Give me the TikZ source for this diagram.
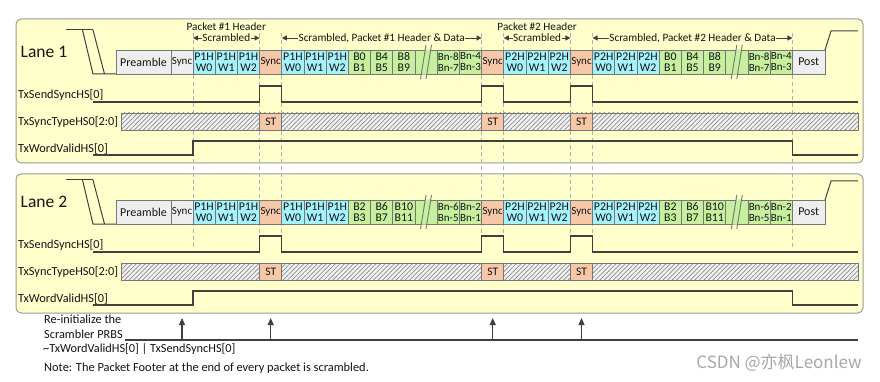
\documentclass[tikz,border=0pt]{standalone}
\usepackage{fontspec}
\setmainfont{Carlito}
\newfontfamily\cjkfont{Noto Sans CJK SC}
\usetikzlibrary{arrows.meta,patterns.meta}
\definecolor{lanebg}{HTML}{FFFFCC}
\definecolor{laneline}{HTML}{9A9A9A}
\definecolor{cellline}{HTML}{767676}
\definecolor{cellgray}{HTML}{EEEEEE}
\definecolor{cellcyan}{HTML}{A4F2FC}
\definecolor{cellgreen}{HTML}{C6EF9E}
\definecolor{cellorange}{HTML}{F6C8A8}
\definecolor{sigcol}{HTML}{404040}
\definecolor{dashcol}{HTML}{B0B0B0}
\definecolor{hatchbg}{HTML}{F2F2F2}
\definecolor{hatchline}{HTML}{8A8A8A}
\definecolor{txt}{HTML}{141414}
\definecolor{wmgray}{HTML}{A8A8A8}
\tikzset{
  lanebox/.style={draw=laneline, fill=lanebg, line width=1pt, rounded corners=5pt},
  cellbox/.style={draw=cellline, line width=0.7pt, minimum height=24pt, inner sep=0pt, outer sep=0pt,
    font=\fontsize{11.8}{11}\selectfont, align=center, text=txt},
  graycell/.style={cellbox, fill=cellgray},
  cyancell/.style={cellbox, fill=cellcyan},
  greencell/.style={cellbox, fill=cellgreen},
  orangecell/.style={cellbox, fill=cellorange},
  synctext/.style={font=\fontsize{11}{11}\selectfont},
  sig/.style={draw=sigcol, line width=1.1pt},
  lbl/.style={anchor=west, inner sep=0pt, text=txt, font=\fontsize{12.3}{13}\selectfont},
  hdrtext/.style={inner sep=0.5pt, text=txt, font=\fontsize{11.2}{12}\selectfont},
  hdrarrow/.style={-{Triangle[length=5pt,width=5pt]}, draw=sigcol, line width=0.8pt},
  dashln/.style={draw=dashcol, line width=0.8pt, dash pattern=on 4pt off 3pt},
  uparrow/.style={-{Triangle[length=7pt,width=6pt]}, draw=sigcol, line width=1.1pt},
}
% unit cell by index
\newcommand\ucell[5]{\node[#4, minimum width=22.2pt] (#1) at ({193+22.2*#2+11.1},#3) {#5};}
% break cell
\newcommand\brkcell[3]{%
  \ucell{#1}{#2}{#3}{greencell}{}
  \pgfmathsetmacro\bx{193+22.2*#2}
  \fill[cellgreen] ({\bx+10.3},{#3-12.6}) -- ({\bx+15.8},{#3-12.6}) -- ({\bx+11.7},{#3+12.6}) -- ({\bx+6.2},{#3+12.6}) -- cycle;
  \draw[draw=cellline, line width=0.9pt] ({\bx+11},{#3-17}) -- ({\bx+5.5},{#3+17});
  \draw[draw=cellline, line width=0.9pt] ({\bx+16.5},{#3-17}) -- ({\bx+11},{#3+17});
}
% lane cells: prefix, ycenter, B-a, B-b, B-c, Bn-a, Bn-b
\newcommand\lanecells[7]{%
  \node[graycell, minimum width=55pt, font=\fontsize{12}{12}\selectfont] (#1pre) at (143.5,#2) {Preamble};
  \node[graycell, minimum width=22pt, synctext] (#1sy) at (182,#2) {Sync};
  \ucell{#1c0}{0}{#2}{cyancell}{P1H\\W0}
  \ucell{#1c1}{1}{#2}{cyancell}{P1H\\W1}
  \ucell{#1c2}{2}{#2}{cyancell}{P1H\\W2}
  \ucell{#1c3}{3}{#2}{orangecell, synctext}{Sync}
  \ucell{#1c4}{4}{#2}{cyancell}{P1H\\W0}
  \ucell{#1c5}{5}{#2}{cyancell}{P1H\\W1}
  \ucell{#1c6}{6}{#2}{cyancell}{P1H\\W2}
  \ucell{#1c7}{7}{#2}{greencell}{#3}
  \ucell{#1c8}{8}{#2}{greencell}{#4}
  \ucell{#1c9}{9}{#2}{greencell}{#5}
  \brkcell{#1c10}{10}{#2}
  \ucell{#1c11}{11}{#2}{greencell, font=\fontsize{11}{11}\selectfont}{#6}
  \ucell{#1c12}{12}{#2}{greencell, font=\fontsize{11}{11}\selectfont}{#7}
  \ucell{#1c13}{13}{#2}{orangecell, synctext}{Sync}
  \ucell{#1c14}{14}{#2}{cyancell}{P2H\\W0}
  \ucell{#1c15}{15}{#2}{cyancell}{P2H\\W1}
  \ucell{#1c16}{16}{#2}{cyancell}{P2H\\W2}
  \ucell{#1c17}{17}{#2}{orangecell, synctext}{Sync}
  \ucell{#1c18}{18}{#2}{cyancell}{P2H\\W0}
  \ucell{#1c19}{19}{#2}{cyancell}{P2H\\W1}
  \ucell{#1c20}{20}{#2}{cyancell}{P2H\\W2}
  \ucell{#1c21}{21}{#2}{greencell}{#3}
  \ucell{#1c22}{22}{#2}{greencell}{#4}
  \ucell{#1c23}{23}{#2}{greencell}{#5}
  \brkcell{#1c24}{24}{#2}
  \ucell{#1c25}{25}{#2}{greencell, font=\fontsize{11}{11}\selectfont}{#6}
  \ucell{#1c26}{26}{#2}{greencell, font=\fontsize{11}{11}\selectfont}{#7}
  \node[graycell, minimum width=32.6pt, font=\fontsize{12}{12}\selectfont] (#1post) at (808.7,#2) {Post};
}
% signals of a lane: prefix, dy
\newcommand\lanesignals[2]{%
  % entry / exit
  \draw[sig, line width=1pt] (66,{30+#2}) -- (93,{30+#2});
  \draw[sig, line width=1pt] (82.5,{30+#2}) -- (93,{74+#2}) -- (116,{74+#2});
  \draw[sig, line width=1pt] (93,{30+#2}) -- (104.5,{74+#2});
  \draw[sig, line width=1pt] (825,{50+#2}) -- (831,{31+#2}) -- (858,{31+#2});
  % labels
  \node[lbl] (#1l1) at (18,{95+#2}) {TxSendSyncHS[0]};
  \node[lbl] (#1l2) at (18,{122+#2}) {TxSyncTypeHS0[2:0]};
  \node[lbl] (#1l3) at (18,{149+#2}) {TxWordValidHS[0]};
  % TxSendSyncHS
  \draw[sig] (93,{102+#2}) -- (259.6,{102+#2}) -- (259.6,{86+#2}) -- (281.8,{86+#2}) -- (281.8,{102+#2})
     -- (481.6,{102+#2}) -- (481.6,{86+#2}) -- (503.8,{86+#2}) -- (503.8,{102+#2})
     -- (570.4,{102+#2}) -- (570.4,{86+#2}) -- (592.6,{86+#2}) -- (592.6,{102+#2}) -- (858,{102+#2});
  % TxSyncTypeHS0
  \fill[hatchbg] (121,{113+#2}) rectangle (858,{130+#2});
  \fill[pattern={Lines[angle=45,distance=3.2pt,line width=0.7pt]}, pattern color=hatchline] (121,{113+#2}) rectangle (858,{130+#2});
  \draw[draw=cellline, line width=0.8pt] (121,{113+#2}) rectangle (858,{130+#2});
  \node[orangecell, minimum width=22.2pt, minimum height=17pt, font=\fontsize{11.5}{12}\selectfont] (#1st1) at (270.7,{121.5+#2}) {ST};
  \node[orangecell, minimum width=22.2pt, minimum height=17pt, font=\fontsize{11.5}{12}\selectfont] (#1st2) at (492.7,{121.5+#2}) {ST};
  \node[orangecell, minimum width=22.2pt, minimum height=17pt, font=\fontsize{11.5}{12}\selectfont] (#1st3) at (581.5,{121.5+#2}) {ST};
  % TxWordValidHS
  \draw[sig] (93,{155+#2}) -- (193,{155+#2}) -- (193,{141+#2}) -- (792.4,{141+#2}) -- (792.4,{155+#2}) -- (858,{155+#2});
}
\begin{document}
\begin{tikzpicture}[x=1pt,y=-1pt]
\useasboundingbox (0,0) rectangle (880,382);
\fill[white] (0,0) rectangle (880,382);
% lane boxes
\draw[lanebox] (16,19) rectangle (863,163);
\draw[lanebox] (16,174) rectangle (863,313);
% dashed guide lines
\foreach \xx in {193,259.6,281.8,481.6,503.8,570.4,592.6,792.4}
  \draw[dashln] (\xx,33) -- (\xx,247);
% lane titles
\node[anchor=west, inner sep=0pt, text=txt, font=\fontsize{17.5}{18}\selectfont] (lane1) at (20.5,52) {Lane 1};
\node[anchor=west, inner sep=0pt, text=txt, font=\fontsize{17.5}{18}\selectfont] (lane2) at (20.5,202) {Lane 2};
% headers
\node[hdrtext] (ph1) at (226.3,27) {Packet \#1 Header};
\node[hdrtext, fill=lanebg] (sc1) at (226.3,38) {Scrambled};
\node[hdrtext, fill=lanebg] (sd1) at (381.7,38) {Scrambled, Packet \#1 Header \& Data};
\node[hdrtext] (ph2) at (537.1,27) {Packet \#2 Header};
\node[hdrtext, fill=lanebg] (sc2) at (537.1,38) {Scrambled};
\node[hdrtext, fill=lanebg] (sd2) at (692.5,38) {Scrambled, Packet \#2 Header \& Data};
\coordinate (h1) at (193,38);
\coordinate (h2) at (259.6,38);
\coordinate (h3) at (281.8,38);
\coordinate (h4) at (481.6,38);
\coordinate (h5) at (503.8,38);
\coordinate (h6) at (570.4,38);
\coordinate (h7) at (592.6,38);
\coordinate (h8) at (792.4,38);
\draw[hdrarrow] (sc1.west) -- (h1);
\draw[hdrarrow] (sc1.east) -- (h2);
\draw[hdrarrow] (sd1.west) -- (h3);
\draw[hdrarrow] (sd1.east) -- (h4);
\draw[hdrarrow] (sc2.west) -- (h5);
\draw[hdrarrow] (sc2.east) -- (h6);
\draw[hdrarrow] (sd2.west) -- (h7);
\draw[hdrarrow] (sd2.east) -- (h8);
% lanes
\lanesignals{A}{0}
\lanecells{A}{62}{B0\\B1}{B4\\B5}{B8\\B9}{Bn-8\\Bn-7}{Bn-4\\Bn-3}
\lanesignals{B}{150}
\lanecells{B}{212}{B2\\B3}{B6\\B7}{B10\\B11}{Bn-6\\Bn-5}{Bn-2\\Bn-1}
% bottom
\node[lbl] (re1) at (44,319) {Re-initialize the};
\node[lbl] (re2) at (44,334) {Scrambler PRBS};
\coordinate (bl) at (125,340);
\coordinate (br) at (858,340);
\draw[sig] (bl) -- (br);
\foreach \xx/\nn in {182/a,270.7/b,492.7/c,581.5/d}{
  \coordinate (\nn b) at (\xx,340);
  \coordinate (\nn t) at (\xx,318);
  \draw[uparrow] (\nn b) -- (\nn t);
}
\node[lbl] (expr) at (43,349) {\textasciitilde TxWordValidHS[0] | TxSendSyncHS[0]};
\node[lbl, font=\fontsize{12.4}{13}\selectfont] (note) at (44,368) {Note: The Packet Footer at the end of every packet is scrambled.};
\node[anchor=east, inner sep=0pt, text=wmgray, font=\cjkfont\fontsize{17}{18}\selectfont] (wm) at (862,363) {CSDN @亦枫Leonlew};
\end{tikzpicture}
\end{document}
